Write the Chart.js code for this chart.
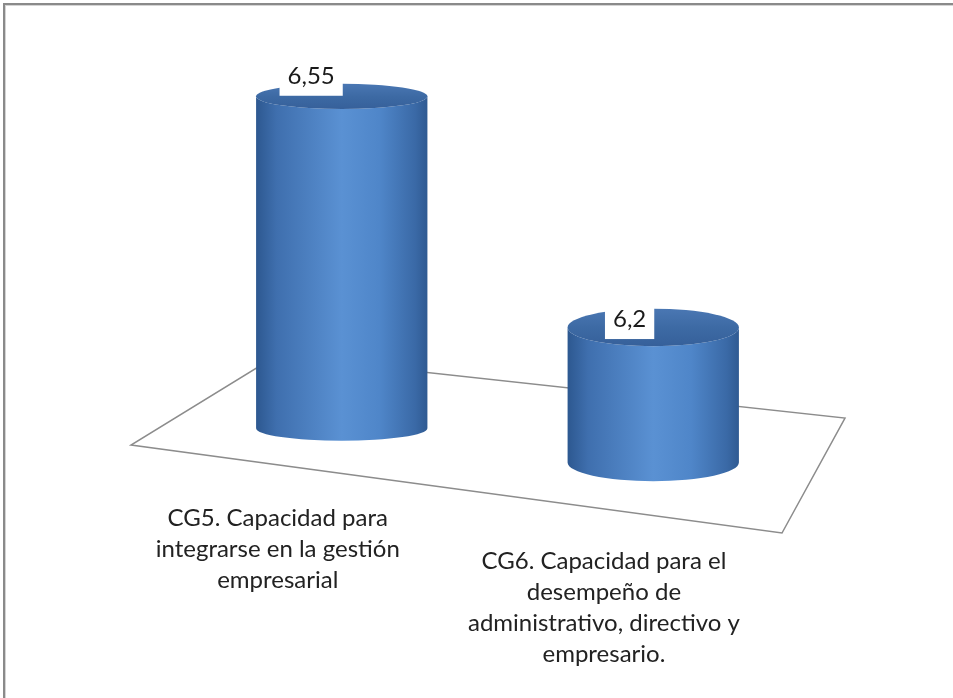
<!DOCTYPE html>
<html>
<head>
<meta charset="utf-8">
<script src="https://cdn.jsdelivr.net/npm/chart.js@4"></script>
<style>
  body { margin: 0; background: #fff; }
  #wrap { position: relative; width: 953px; height: 698px; overflow: hidden; }
  #frame { position: absolute; left: 3px; top: 3px; width: 960px; height: 700px;
           border-left: 2px solid #8a8a8a; border-top: 2px solid #8a8a8a;
           box-shadow: inset 1px 1px 0 #d4d4d4; pointer-events: none; }
  canvas { position: absolute; left: 0; top: 0; }
</style>
</head>
<body>
<div id="wrap">
  <canvas id="chart" width="953" height="698"></canvas>
  <div id="frame"></div>
</div>
<script>
const categories = [
    ['CG5. Capacidad para', 'integrarse en la gestión', 'empresarial'],
    ['CG6. Capacidad para el', 'desempeño de', 'administrativo, directivo y', 'empresario.']
];
const values = [6.55, 6.2];
const valueLabels = ['6,55', '6,2'];

const FONT = 'Lato, "Open Sans", sans-serif';
const TILT = 0.11;   // slope of the floor

// floor plane + cylinders drawn around the bar elements
const cylinders = {
    id: 'cylinders',
    beforeDatasetsDraw(chart) {
        const a = chart.chartArea;
        const ctx = chart.ctx;
        ctx.save();
        ctx.strokeStyle = '#8c8c8c';
        ctx.lineWidth = 1.5;
        ctx.beginPath();
        ctx.moveTo(a.left + 90, a.bottom - 55);
        ctx.lineTo(a.right + 36, a.bottom + 7);
        ctx.lineTo(a.right - 27, a.bottom + 122);
        ctx.lineTo(a.left - 55, a.bottom + 34);
        ctx.closePath();
        ctx.stroke();
        ctx.restore();
    },
    afterDatasetsDraw(chart) {
        const a = chart.chartArea;
        const ctx = chart.ctx;
        const ys = chart.scales.y;
        const yBase = ys.getPixelForValue(ys.min);
        const meta = chart.getDatasetMeta(0);
        meta.data.forEach((el, i) => {
            const off = TILT * (el.x - a.left);
            const top = el.y + off;
            const base = yBase + off;
            const rx = el.width / 2;
            const ry = 6 + 0.0196 * el.x;
            const x0 = el.x - rx, x1 = el.x + rx;

            ctx.save();
            const g = ctx.createLinearGradient(x0, 0, x1, 0);
            g.addColorStop(0, '#2d5890');
            g.addColorStop(0.12, '#3f6fae');
            g.addColorStop(0.5, '#5a91d3');
            g.addColorStop(0.72, '#4f86c9');
            g.addColorStop(0.93, '#3a69a6');
            g.addColorStop(1, '#2f5a92');
            ctx.beginPath();
            ctx.moveTo(x0, top);
            ctx.lineTo(x0, base);
            ctx.ellipse(el.x, base, rx, ry, 0, Math.PI, 0, true);
            ctx.lineTo(x1, top);
            ctx.ellipse(el.x, top, rx, ry, 0, 0, Math.PI, false);
            ctx.closePath();
            ctx.fillStyle = g;
            ctx.fill();

            // top face
            const tg = ctx.createLinearGradient(0, top - ry, 0, top + ry);
            tg.addColorStop(0, '#4a77b3');
            tg.addColorStop(0.5, '#3d6aa4');
            tg.addColorStop(1, '#36609a');
            ctx.beginPath();
            ctx.ellipse(el.x, top, rx, ry, 0, 0, Math.PI * 2);
            ctx.fillStyle = tg;
            ctx.fill();

            // value label
            ctx.font = '24px ' + FONT;
            const txt = valueLabels[i];
            const tw = ctx.measureText(txt).width;
            const bx1 = el.x + 1;
            const bx0 = bx1 - tw - 16;
            const baseline = top + 2 * (ry - 19);
            ctx.fillStyle = '#ffffff';
            ctx.fillRect(bx0, baseline - 25, bx1 - bx0, 37);
            ctx.fillStyle = '#1a1a1a';
            ctx.textAlign = 'center';
            ctx.textBaseline = 'alphabetic';
            ctx.fillText(txt, (bx0 + bx1) / 2, baseline);

            // category label on the floor front
            const lx = a.left + 91.5 + 1.047 * (el.x - a.left - 155.5);
            let ly = a.bottom + 34 + 0.135 * (el.x - a.left + 55) + 53;
            ctx.fillStyle = '#222222';
            categories[i].forEach(line => {
                ctx.fillText(line, lx, ly);
                ly += 31;
            });
            ctx.restore();
        });
    }
};

new Chart(document.getElementById('chart'), {
    type: 'bar',
    data: {
        labels: categories.map(c => c.join(' ')),
        datasets: [{
            data: values,
            backgroundColor: 'rgba(0,0,0,0)',
            borderWidth: 0,
            barPercentage: 0.55,
            categoryPercentage: 1
        }]
    },
    options: {
        responsive: false,
        animation: false,
        layout: { padding: { left: 186, right: 144, top: 23, bottom: 287 } },
        plugins: { legend: { display: false }, tooltip: { enabled: false } },
        scales: {
            x: { display: false },
            y: { display: false, min: 5.96, max: 6.65 }
        }
    },
    plugins: [cylinders]
});
</script>
</body>
</html>
